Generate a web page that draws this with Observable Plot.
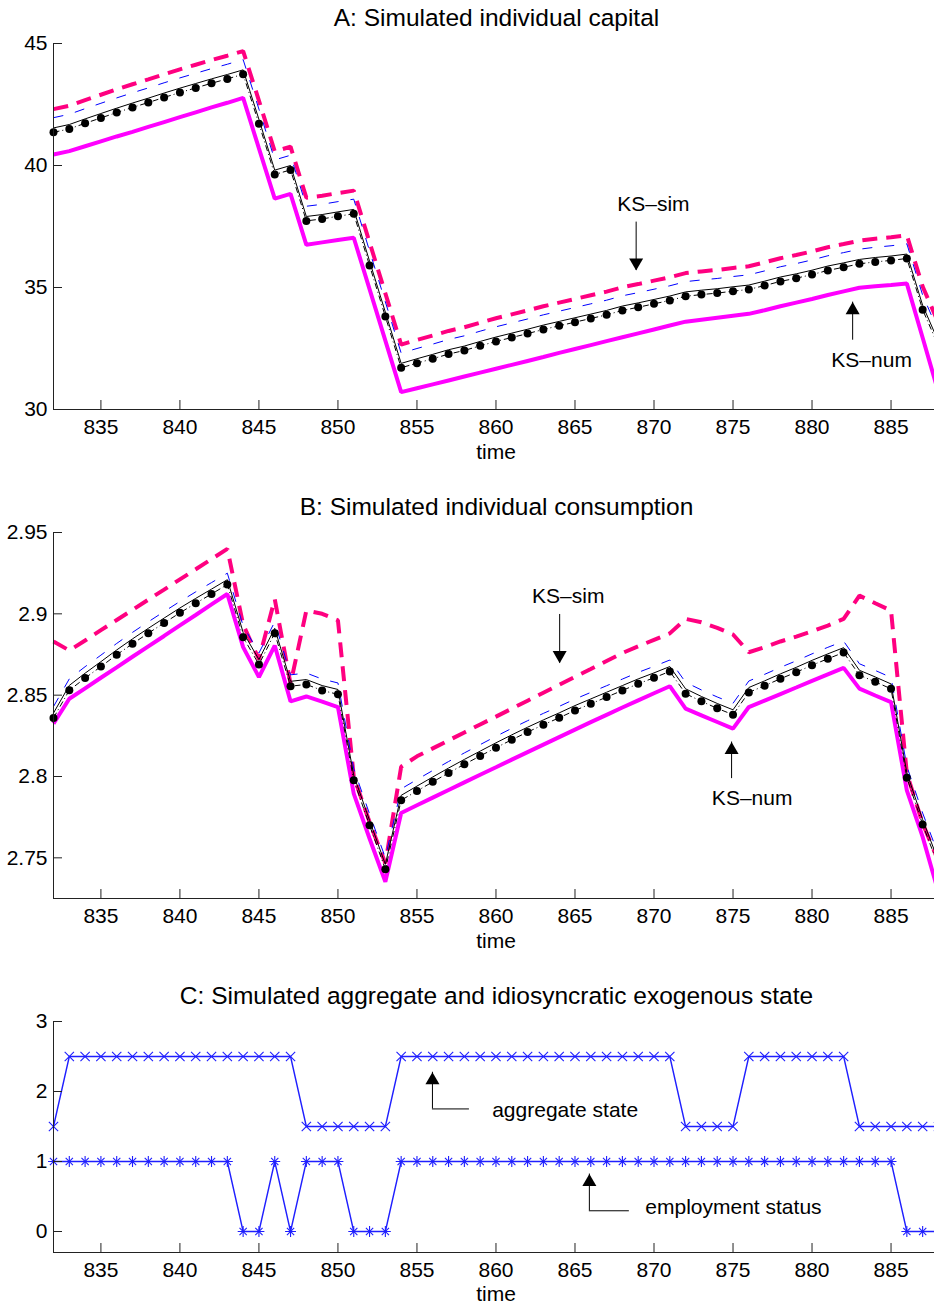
<!DOCTYPE html>
<html>
<head>
<meta charset="utf-8">
<script src="https://cdn.jsdelivr.net/npm/d3@7"></script>
<script src="https://cdn.jsdelivr.net/npm/@observablehq/plot@0.6"></script>
<style>
  body { margin: 0; background: #fff; }
  #wrap { position: relative; width: 934px; height: 1305px; overflow: hidden; background: #fff;
          font-family: "Liberation Sans", Arial, sans-serif; color: #000; }
  .title { position: absolute; left: 0; width: 993px; text-align: center; font-size: 24.5px; line-height: 1; white-space: nowrap; }
  .xlab { position: absolute; left: 0; width: 992px; text-align: center; font-size: 21px; line-height: 1; }
  .panel { position: absolute; left: 0; }
</style>
</head>
<body>
<div id="wrap">
  <div id="pA" class="panel" style="top:23px"></div>
  <div class="title" style="top:6px">A: Simulated individual capital</div>
  <div class="xlab" style="top:441px">time</div>

  <div id="pB" class="panel" style="top:512px"></div>
  <div class="title" style="top:495px">B: Simulated individual consumption</div>
  <div class="xlab" style="top:930px">time</div>

  <div id="pC" class="panel" style="top:1001px"></div>
  <div class="title" style="top:984px">C: Simulated aggregate and idiosyncratic exogenous state</div>
  <div class="xlab" style="top:1283px">time</div>
</div>
<script>
// ---------- data ----------
const time = d3.range(832, 889); // 832 ... 888
const xTicks = [835, 840, 845, 850, 855, 860, 865, 870, 875, 880, 885];
const yTicksA = [30, 35, 40, 45];
const yTicksB = [2.75, 2.8, 2.85, 2.9, 2.95];
const yTicksC = [0, 1, 2, 3];

// Panel A: individual capital
const capDots = [41.36, 41.50, 41.73, 41.95, 42.17, 42.38, 42.58, 42.79, 42.99, 43.18, 43.37, 43.55, 43.74,
  41.71, 39.63, 39.82, 37.73, 37.81, 37.92, 38.02, 35.90, 33.81, 31.71,
  31.90, 32.08, 32.27, 32.42, 32.61, 32.79, 32.95, 33.11, 33.28, 33.43, 33.58, 33.73, 33.88, 34.06, 34.19, 34.33,
  34.47, 34.64, 34.71, 34.77, 34.85, 34.92, 35.08, 35.25, 35.38, 35.53, 35.70, 35.83, 35.97, 36.05, 36.11, 36.19,
  34.09, 32.60];
const capBlack = [41.54, 41.68, 41.91, 42.13, 42.35, 42.56, 42.76, 42.97, 43.17, 43.36, 43.55, 43.73, 43.92,
  41.89, 39.81, 40.00, 37.91, 37.99, 38.10, 38.20, 36.08, 33.99, 31.89,
  32.08, 32.26, 32.45, 32.60, 32.79, 32.97, 33.13, 33.29, 33.46, 33.61, 33.76, 33.91, 34.06, 34.24, 34.37, 34.51,
  34.65, 34.82, 34.89, 34.95, 35.03, 35.10, 35.26, 35.43, 35.56, 35.71, 35.88, 36.01, 36.15, 36.23, 36.29, 36.37,
  34.27, 32.78];
const capBlue = [41.96, 42.10, 42.33, 42.55, 42.77, 42.98, 43.18, 43.39, 43.59, 43.78, 43.97, 44.15, 44.34,
  42.31, 40.23, 40.42, 38.33, 38.41, 38.52, 38.62, 36.50, 34.41, 32.31,
  32.50, 32.68, 32.87, 33.02, 33.21, 33.39, 33.55, 33.71, 33.88, 34.03, 34.18, 34.33, 34.48, 34.66, 34.79, 34.93,
  35.07, 35.24, 35.31, 35.37, 35.45, 35.52, 35.68, 35.85, 35.98, 36.13, 36.30, 36.43, 36.57, 36.65, 36.71, 36.79,
  34.69, 33.20];
const capKSsim = [42.31, 42.45, 42.68, 42.90, 43.12, 43.33, 43.53, 43.74, 43.94, 44.13, 44.32, 44.50, 44.69,
  42.66, 40.58, 40.77, 38.68, 38.76, 38.87, 38.97, 36.85, 34.76, 32.66,
  32.85, 33.03, 33.22, 33.37, 33.56, 33.74, 33.90, 34.06, 34.23, 34.38, 34.53, 34.68, 34.83, 35.01, 35.14, 35.28,
  35.42, 35.59, 35.66, 35.72, 35.80, 35.87, 36.03, 36.20, 36.33, 36.48, 36.65, 36.78, 36.92, 37.00, 37.06, 37.14,
  35.04, 33.55];
const capKSnum = [40.45, 40.59, 40.79, 40.99, 41.19, 41.38, 41.58, 41.78, 41.98, 42.18, 42.38, 42.57, 42.77,
  40.70, 38.64, 38.84, 36.75, 36.85, 36.95, 37.04, 34.93, 32.82, 30.71,
  30.87, 31.03, 31.19, 31.35, 31.51, 31.67, 31.83, 31.99, 32.15, 32.32, 32.48, 32.64, 32.80, 32.96, 33.12, 33.28,
  33.44, 33.60, 33.68, 33.76, 33.84, 33.92, 34.07, 34.23, 34.38, 34.53, 34.69, 34.84, 34.99, 35.05, 35.10, 35.16,
  32.94, 30.70];

// Panel B: individual consumption
const conDots = [2.836, 2.853, 2.8605, 2.8676, 2.8748, 2.8816, 2.8881, 2.8944, 2.9006, 2.9065, 2.9122, 2.918,
  2.8856, 2.8689, 2.8881, 2.8555, 2.8566, 2.8529, 2.8505, 2.7977, 2.770, 2.743,
  2.7854, 2.7911, 2.7967, 2.8022, 2.8075, 2.8126, 2.8177, 2.8226, 2.8273, 2.8318, 2.8361, 2.8406, 2.8447, 2.8488,
  2.8529, 2.857, 2.8607, 2.8646,
  2.8509, 2.8462, 2.8419, 2.838, 2.8517, 2.8558, 2.8601, 2.8641, 2.8684, 2.8724, 2.8762, 2.8623, 2.8582, 2.8539,
  2.7993, 2.7705, 2.745];
const conBlack = [2.839, 2.856, 2.8635, 2.8706, 2.8778, 2.8846, 2.8911, 2.8974, 2.9036, 2.9095, 2.9152, 2.921,
  2.8886, 2.8719, 2.8911, 2.8585, 2.8596, 2.8559, 2.8535, 2.8007, 2.773, 2.746,
  2.7884, 2.7941, 2.7997, 2.8052, 2.8105, 2.8156, 2.8207, 2.8256, 2.8303, 2.8348, 2.8391, 2.8436, 2.8477, 2.8518,
  2.8559, 2.86, 2.8637, 2.8676,
  2.8539, 2.8492, 2.8449, 2.841, 2.8547, 2.8588, 2.8631, 2.8671, 2.8714, 2.8754, 2.8792, 2.8653, 2.8612, 2.8569,
  2.8023, 2.7735, 2.748];
const conBlue = [2.843, 2.86, 2.8675, 2.8746, 2.8818, 2.8886, 2.8951, 2.9014, 2.9076, 2.9135, 2.9192, 2.925,
  2.8926, 2.8759, 2.8951, 2.8625, 2.8636, 2.8599, 2.8575, 2.8047, 2.777, 2.750,
  2.7924, 2.7981, 2.8037, 2.8092, 2.8145, 2.8196, 2.8247, 2.8296, 2.8343, 2.8388, 2.8431, 2.8476, 2.8517, 2.8558,
  2.8599, 2.864, 2.8677, 2.8716,
  2.8579, 2.8532, 2.8489, 2.845, 2.8587, 2.8628, 2.8671, 2.8711, 2.8754, 2.8794, 2.8832, 2.8693, 2.8652, 2.8609,
  2.8063, 2.7775, 2.752];
const conKSsim = [2.883, 2.8775, 2.8836, 2.8900, 2.8962, 2.9024, 2.9087, 2.9149, 2.9212, 2.9274, 2.9337, 2.9399,
  2.8934, 2.872, 2.909, 2.857, 2.902, 2.900, 2.896, 2.800, 2.772, 2.7466,
  2.806, 2.8124, 2.8173, 2.8222, 2.8271, 2.8320, 2.8368, 2.8417, 2.8466, 2.8515, 2.8564, 2.8613, 2.8661, 2.8710,
  2.8759, 2.8800, 2.8840, 2.8880,
  2.8969, 2.8948, 2.8914, 2.8873, 2.8764, 2.8795, 2.8830, 2.8860, 2.8893, 2.8928, 2.8969, 2.9112, 2.9065, 2.9020,
  2.8018, 2.7711, 2.748];
const conKSnum = [2.8325, 2.8478, 2.8542, 2.8607, 2.8671, 2.8736, 2.8800, 2.8864, 2.8929, 2.8993, 2.9058, 2.9122,
  2.8795, 2.8611, 2.8805, 2.8462, 2.8492, 2.8460, 2.8427, 2.7895, 2.7619, 2.7353,
  2.7776, 2.7823, 2.7870, 2.7917, 2.7964, 2.8011, 2.8057, 2.8104, 2.8150, 2.8196, 2.8242, 2.8288, 2.8334, 2.8379,
  2.8424, 2.8468, 2.8512, 2.8555,
  2.8417, 2.8376, 2.8335, 2.8294, 2.8427, 2.8467, 2.8507, 2.8547, 2.8588, 2.8628, 2.8668, 2.8540, 2.8498, 2.8457,
  2.7915, 2.7629, 2.7288];

// Panel C: exogenous states
const aggState = [1.5,
  2.5, 2.5, 2.5, 2.5, 2.5, 2.5, 2.5, 2.5, 2.5, 2.5, 2.5, 2.5, 2.5, 2.5, 2.5,
  1.5, 1.5, 1.5, 1.5, 1.5, 1.5,
  2.5, 2.5, 2.5, 2.5, 2.5, 2.5, 2.5, 2.5, 2.5, 2.5, 2.5, 2.5, 2.5, 2.5, 2.5, 2.5, 2.5, 2.5,
  1.5, 1.5, 1.5, 1.5,
  2.5, 2.5, 2.5, 2.5, 2.5, 2.5, 2.5,
  1.5, 1.5, 1.5, 1.5, 1.5, 1.5];
const empStatus = [1, 1, 1, 1, 1, 1, 1, 1, 1, 1, 1, 1,
  0, 0, 1, 0, 1, 1, 1, 0, 0, 0,
  1, 1, 1, 1, 1, 1, 1, 1, 1, 1, 1, 1, 1, 1, 1, 1, 1, 1, 1, 1, 1, 1, 1, 1, 1, 1, 1, 1, 1, 1, 1, 1,
  0, 0, 0];

// Annotations (text labels and arrows, in data coordinates)
const labelsA = [{t: 869.96, v: 38.43, text: "KS–sim"}, {t: 883.77, v: 32.02, text: "KS–num"}];
const arrowsDownA = [{t: 868.87, from: 37.68, to: 35.70}];
const arrowsUpA = [{t: 882.57, from: 32.84, to: 34.40}];
const labelsB = [{t: 864.57, v: 2.9110, text: "KS–sim"}, {t: 876.21, v: 2.7864, text: "KS–num"}];
const arrowsDownB = [{t: 864.03, from: 2.8996, to: 2.8697}];
const arrowsUpB = [{t: 874.91, from: 2.7987, to: 2.8212}];
const labelsC = [{t: 859.76, v: 1.727, text: "aggregate state"}, {t: 869.45, v: 0.345, text: "employment status"}];
const arrowsUpC = [{t: 855.98, from: 1.751, to: 2.275, tEnd: 858.32}, {t: 865.91, from: 0.296, to: 0.821, tEnd: 868.44}];

// ---------- helpers ----------
const rows = vals => vals.map((v, i) => ({t: time[i], v}));
const FONT = '"Liberation Sans", Arial, sans-serif';
const AX = "#222";

function frameMarks(yDomain, yTicks) {
  return [
    Plot.ruleX([832], {stroke: AX, strokeWidth: 1}),
    Plot.ruleY([yDomain[0]], {stroke: AX, strokeWidth: 1}),
    Plot.axisX({ticks: xTicks, tickSize: 9, dy: -9, fill: "none", stroke: AX, label: null}),
    Plot.axisX({ticks: xTicks, tickSize: 0, tickPadding: 10, fontSize: 21, fill: "#000", label: null}),
    Plot.axisY({ticks: yTicks, tickSize: 9, dx: 9, fill: "none", stroke: AX, label: null}),
    Plot.axisY({ticks: yTicks, tickSize: 0, tickPadding: 6, fontSize: 21, fill: "#000", label: null, tickFormat: d => `${d}`})
  ];
}

function arrowMarks(down, up) {
  return [
    Plot.ruleX(down, {x: "t", y1: "from", y2: "to", stroke: "#000", strokeWidth: 1}),
    Plot.ruleX(up, {x: "t", y1: "from", y2: "to", stroke: "#000", strokeWidth: 1}),
    Plot.dot(down, {x: "t", y: "to", symbol: "triangle", r: 5.2, fill: "#000", stroke: "none", rotate: 180, dy: -8}),
    Plot.dot(up, {x: "t", y: "to", symbol: "triangle", r: 5.2, fill: "#000", stroke: "none", dy: 8})
  ];
}

function simPanel({yDomain, yTicks, dots, black, blue, ksSim, ksNum, labels, down, up}) {
  return Plot.plot({
    width: 934, height: 441,
    marginLeft: 53, marginRight: 0, marginTop: 20, marginBottom: 55,
    x: {domain: [832, 887.75]},
    y: {domain: yDomain},
    style: {fontFamily: FONT, fontSize: "21px", background: "transparent"},
    marks: [
      Plot.line(rows(ksNum), {x: "t", y: "v", stroke: "#ff00ff", strokeWidth: 4, strokeLinejoin: "miter", strokeLinecap: "butt"}),
      Plot.line(rows(ksSim), {x: "t", y: "v", stroke: "#ff0080", strokeWidth: 4, strokeDasharray: "15,9", strokeLinejoin: "miter", strokeLinecap: "butt"}),
      Plot.line(rows(blue), {x: "t", y: "v", stroke: "#0000ff", strokeWidth: 1, strokeDasharray: "10,12", strokeLinecap: "butt"}),
      Plot.line(rows(black), {x: "t", y: "v", stroke: "#000", strokeWidth: 1}),
      Plot.line(rows(dots), {x: "t", y: "v", stroke: "#000", strokeWidth: 1, strokeDasharray: "6,3,1,3", strokeLinecap: "butt"}),
      Plot.dot(rows(dots), {x: "t", y: "v", r: 4, fill: "#000", stroke: "none"}),
      Plot.text(labels, {x: "t", y: "v", text: "text", fontSize: 21, fill: "#000", textAnchor: "middle"}),
      ...arrowMarks(down, up),
      ...frameMarks(yDomain, yTicks)
    ]
  });
}

document.getElementById("pA").append(simPanel({
  yDomain: [30, 45], yTicks: yTicksA,
  dots: capDots, black: capBlack, blue: capBlue, ksSim: capKSsim, ksNum: capKSnum,
  labels: labelsA, down: arrowsDownA, up: arrowsUpA
}));

document.getElementById("pB").append(simPanel({
  yDomain: [2.725, 2.95], yTicks: yTicksB,
  dots: conDots, black: conBlack, blue: conBlue, ksSim: conKSsim, ksNum: conKSnum,
  labels: labelsB, down: arrowsDownB, up: arrowsUpB
}));

const BL = "#1f1fff";
document.getElementById("pC").append(Plot.plot({
  width: 934, height: 294,
  marginLeft: 53, marginRight: 0, marginTop: 20, marginBottom: 43,
  x: {domain: [832, 887.75]},
  y: {domain: [-0.3, 3]},
  style: {fontFamily: FONT, fontSize: "21px", background: "transparent"},
  marks: [
    Plot.line(rows(aggState), {x: "t", y: "v", stroke: BL, strokeWidth: 1.4}),
    Plot.dot(rows(aggState), {x: "t", y: "v", symbol: "times", r: 4.3, stroke: BL, strokeWidth: 1.1, fill: "none"}),
    Plot.line(rows(empStatus), {x: "t", y: "v", stroke: BL, strokeWidth: 1.4}),
    Plot.dot(rows(empStatus), {x: "t", y: "v", symbol: "plus", r: 3.6, stroke: BL, strokeWidth: 1.1, fill: "none"}),
    Plot.dot(rows(empStatus), {x: "t", y: "v", symbol: "times", r: 3.4, stroke: BL, strokeWidth: 1.1, fill: "none"}),
    Plot.ruleY(arrowsUpC, {y: "from", x1: "t", x2: "tEnd", stroke: "#000", strokeWidth: 1}),
    ...arrowMarks([], arrowsUpC),
    Plot.text(labelsC, {x: "t", y: "v", text: "text", fontSize: 21, fill: "#000", textAnchor: "start"}),
    ...frameMarks([-0.3, 3], yTicksC)
  ]
}));
</script>
</body>
</html>
